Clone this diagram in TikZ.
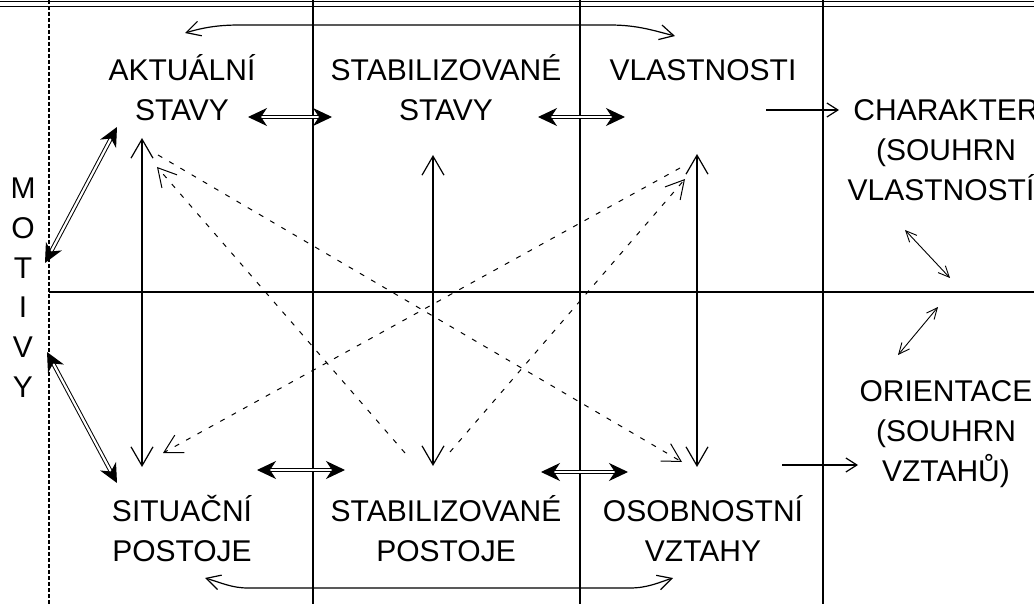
\documentclass[tikz,border=0pt]{standalone}
\usepackage{fontspec}
\setmainfont{Liberation Sans}
\usetikzlibrary{arrows.meta}
\begin{document}
\begin{tikzpicture}[x=1pt,y=-1pt,
  lbl/.style={anchor=base, inner sep=0pt, font=\fontsize{30}{36}\selectfont},
  gridline/.style={line width=1.4pt},
  motline/.style={line width=1.1pt, dash pattern=on 4pt off 2pt},
  vlink/.style={line width=1.2pt, {Straight Barb[length=19pt,width=22pt]}-{Straight Barb[length=19pt,width=22pt]}},
  dlink/.style={line width=1pt, dash pattern=on 5pt off 8pt, -{Straight Barb[length=18pt,width=20pt]}},
  fatlink/.style={double, double distance=2.2pt, line width=1pt,
    {Stealth[length=19pt,width=18pt,inset=6pt]}-{Stealth[length=19pt,width=18pt,inset=6pt]}},
  curvelink/.style={line width=1.2pt, {Straight Barb[length=14pt,width=15pt]}-{Straight Barb[length=14pt,width=15pt]}},
  outlink/.style={line width=1.2pt, -{Straight Barb[length=11pt,width=14pt]}},
  smalllink/.style={line width=0.9pt, {Straight Barb[length=11pt,width=10pt]}-{Straight Barb[length=11pt,width=10pt]}}
]
\useasboundingbox (0,0) rectangle (1034,604);
\clip (0,0) rectangle (1034,604);

% frame: double top rule, column rules, middle rule
\draw[line width=1.2pt] (0,1.5) -- (1034,1.5);
\draw[line width=1.2pt] (0,6.5) -- (1034,6.5);
\draw[motline] (49,0) -- (49,604);
\foreach \cx in {313,580,823} \draw[gridline] (\cx,0) -- (\cx,604);
\draw[gridline] (49,292) -- (1034,292);

% labels of the six fields
\node[lbl] (akt1) at (182,81) {AKTUÁLNÍ};
\node[lbl] (akt2) at (182,121) {STAVY};
\node[lbl] (sst1) at (446,81) {STABILIZOVANÉ};
\node[lbl] (sst2) at (446,121) {STAVY};
\node[lbl] (vla1) at (703,81) {VLASTNOSTI};
\node[lbl] (sit1) at (182,521) {SITUAČNÍ};
\node[lbl] (sit2) at (182,561) {POSTOJE};
\node[lbl] (spo1) at (446,521) {STABILIZOVANÉ};
\node[lbl] (spo2) at (446,561) {POSTOJE};
\node[lbl] (oso1) at (703,521) {OSOBNOSTNÍ};
\node[lbl] (oso2) at (703,561) {VZTAHY};

% right-hand summaries
\node[lbl] (cha1) at (946,121) {CHARAKTER};
\node[lbl] (cha2) at (946,161) {(SOUHRN};
\node[lbl] (cha3) at (946,201) {VLASTNOSTÍ)};
\node[lbl] (ori1) at (946,401) {ORIENTACE};
\node[lbl] (ori2) at (946,441) {(SOUHRN};
\node[lbl] (ori3) at (946,481) {VZTAHŮ)};

% vertical word MOTIVY
\foreach \ch [count=\i from 0] in {M,O,T,I,V,Y}
  \node[lbl] (mot\i) at (23,199+39.6*\i) {\ch};

% connector end points
\coordinate (aT) at (142,138);  \coordinate (aB) at (142,467);
\coordinate (sT) at (433,155);  \coordinate (sB) at (433,466);
\coordinate (vT) at (697,154);  \coordinate (vB) at (697,467);

\coordinate (dA1) at (405,453); \coordinate (dA2) at (157,167);
\coordinate (dB1) at (450,452); \coordinate (dB2) at (685,179);
\coordinate (dC1) at (158,155); \coordinate (dC2) at (682,462);
\coordinate (dD1) at (680,168); \coordinate (dD2) at (163,453);

\coordinate (h1L) at (248,117); \coordinate (h1R) at (332,117);
\coordinate (h2L) at (538,117); \coordinate (h2R) at (625,117);
\coordinate (h3L) at (257,470); \coordinate (h3R) at (345,470);
\coordinate (h4L) at (541,472); \coordinate (h4R) at (628,472);
\coordinate (m1A) at (117,127); \coordinate (m1B) at (45,263);
\coordinate (m2A) at (47,352);  \coordinate (m2B) at (117,483);

\coordinate (tcL) at (185,33);  \coordinate (tcR) at (675,36);
\coordinate (bcL) at (205,578); \coordinate (bcR) at (673,578);

\coordinate (o1A) at (766,110); \coordinate (o1B) at (839,110);
\coordinate (o2A) at (782,465); \coordinate (o2B) at (858,465);
\coordinate (c1A) at (905,230); \coordinate (c1B) at (950,278);
\coordinate (c2A) at (938,307); \coordinate (c2B) at (898,355);

% vertical links inside the columns
\draw[vlink] (aT) -- (aB);
\draw[vlink] (sT) -- (sB);
\draw[vlink] (vT) -- (vB);

% dashed cross links
\draw[dlink] (dA1) -- (dA2);
\draw[dlink] (dB1) -- (dB2);
\draw[dlink] (dC1) -- (dC2);
\draw[dlink] (dD1) -- (dD2);

% heavy double links
\draw[fatlink] (h1L) -- (h1R);
\draw[fatlink] (h2L) -- (h2R);
\draw[fatlink] (h3L) -- (h3R);
\draw[fatlink] (h4L) -- (h4R);
\draw[fatlink] (m1A) -- (m1B);
\draw[fatlink] (m2A) -- (m2B);

% long curved links over the top and under the bottom
\draw[curvelink] (tcL) .. controls (205,27) and (220,25) .. (240,25) -- (610,25)
  .. controls (638,25) and (655,31) .. (tcR);
\draw[curvelink] (bcL) .. controls (222,583) and (232,588) .. (248,588) -- (630,588)
  .. controls (648,588) and (660,582) .. (bcR);

% links to the summaries
\draw[outlink] (o1A) -- (o1B);
\draw[outlink] (o2A) -- (o2B);
\draw[smalllink] (c1A) -- (c1B);
\draw[smalllink] (c2A) -- (c2B);
\end{tikzpicture}
\end{document}
